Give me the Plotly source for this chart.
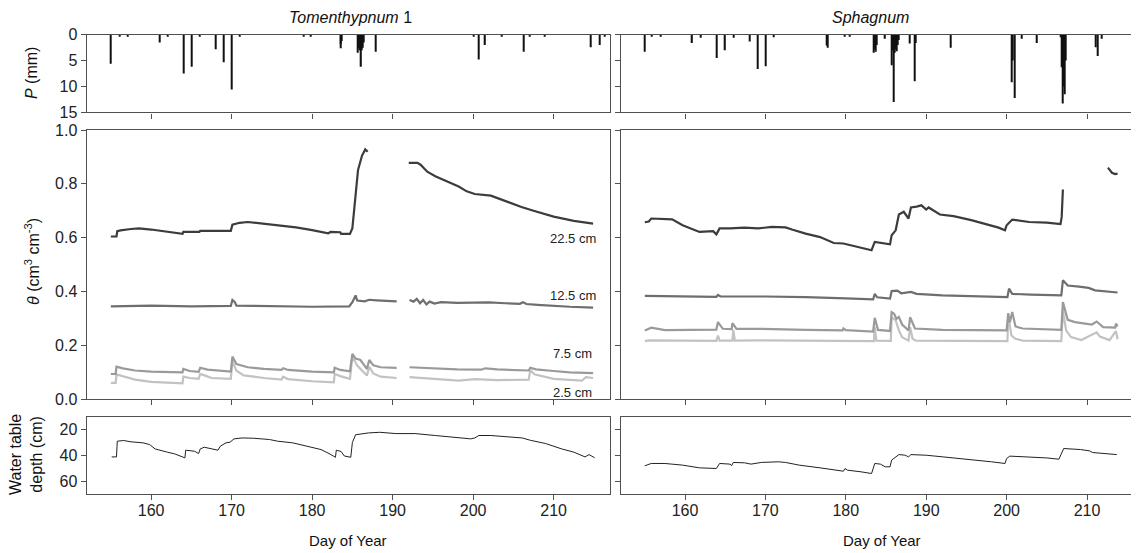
import plotly.graph_objects as go

# ---------------- DATA ----------------
# Precipitation (mm), Tomenthypnum 1
p_t1_day = [155.0, 156.1, 157.1, 161.1, 162.1, 164.0, 165.0, 166.0, 168.0, 169.0, 170.0, 171.0,
            179.0, 179.8, 183.5, 183.6, 183.7, 185.7, 185.8, 185.9, 186.0, 186.1, 186.2, 186.3,
            186.4, 187.9, 200.1, 200.7, 201.5, 203.6, 206.3, 207.0, 208.9, 214.6, 215.7, 216.3]
p_t1_mm = [5.6, 0.2, 0.2, 1.5, 0.3, 7.5, 6.2, 0.4, 2.8, 5.3, 10.6, 0.3,
           0.3, 0.3, 2.6, 1.8, 1.2, 3.5, 2.5, 3.0, 2.0, 6.2, 3.0, 2.5,
           1.5, 3.3, 0.3, 4.8, 2.0, 0.2, 3.3, 0.2, 0.2, 2.4, 2.0, 0.3]

# Precipitation (mm), Sphagnum
p_sp_day = [155.0, 155.9, 157.0, 160.9, 161.9, 163.9, 165.0, 166.0, 168.0, 169.0, 170.0, 171.0,
            177.6, 177.8, 179.9, 180.5, 183.5, 183.6, 183.7, 183.8, 184.9, 185.7, 185.8, 185.9,
            186.0, 186.1, 186.2, 186.3, 186.4, 186.6, 188.0, 188.6, 188.7, 193.0, 200.6, 200.8,
            201.0, 201.9, 203.8, 206.7, 206.9, 207.0, 207.1, 207.2, 207.3, 211.1, 211.3, 211.8]
p_sp_mm = [3.3, 0.3, 0.2, 1.6, 0.6, 4.5, 3.0, 0.6, 1.3, 6.6, 6.1, 0.5,
           2.1, 2.5, 0.3, 0.3, 3.5, 2.8, 3.3, 2.0, 0.8, 5.9, 3.0, 2.5,
           13.0, 3.5, 2.8, 3.2, 2.0, 1.0, 1.7, 9.0, 1.6, 2.5, 9.2, 5.0,
           12.2, 0.8, 1.6, 0.5, 6.3, 13.3, 10.0, 11.5, 5.0, 2.4, 4.1, 0.8]

# Soil moisture theta (cm3 cm-3), Tomenthypnum 1  (None = data gap)
t1_225_day = [155.0, 155.7, 155.8, 156.2, 157.5, 158.5, 160.0, 162.0, 163.9, 164.0, 166.0, 166.1,
              169.9, 170.1, 171.0, 172.0, 174.0, 176.0, 178.0, 180.0, 182.0, 182.3, 183.5, 183.6,
              184.7, 185.0, 185.4, 185.7, 186.2, 186.6, 186.9, None, 192.0, 193.1, 193.5, 194.3,
              195.3, 196.8, 198.2, 199.2, 200.2, 202.2, 204.1, 205.6, 206.0, 207.5, 210.0, 212.5, 214.9]
t1_225_val = [0.604, 0.604, 0.624, 0.627, 0.632, 0.634, 0.630, 0.622, 0.614, 0.621, 0.621, 0.625,
              0.625, 0.648, 0.655, 0.658, 0.652, 0.646, 0.638, 0.628, 0.616, 0.621, 0.620, 0.614,
              0.614, 0.635, 0.750, 0.851, 0.905, 0.928, 0.919, None, 0.878, 0.878, 0.870, 0.845,
              0.828, 0.807, 0.790, 0.772, 0.762, 0.756, 0.735, 0.718, 0.714, 0.700, 0.678, 0.662, 0.652]

t1_125_day = [155.0, 160.0, 165.0, 169.9, 170.1, 170.4, 170.6, 175.0, 180.0, 184.6, 185.0, 185.4,
              185.6, 186.5, 187.1, 188.0, 190.5, None, 192.1, 192.6, 193.0, 193.4, 193.8, 194.2,
              194.6, 195.2, 196.0, 198.0, 200.0, 202.0, 204.0, 205.8, 206.2, 206.6, 208.0, 210.0,
              212.0, 214.9]
t1_125_val = [0.344, 0.347, 0.344, 0.346, 0.368, 0.360, 0.347, 0.345, 0.343, 0.344, 0.360, 0.385,
              0.366, 0.363, 0.369, 0.367, 0.363, None, 0.368, 0.362, 0.372, 0.356, 0.368, 0.352,
              0.362, 0.355, 0.360, 0.357, 0.358, 0.359, 0.356, 0.354, 0.360, 0.353, 0.350, 0.346,
              0.343, 0.340]

t1_75_day = [155.0, 155.6, 155.7, 156.5, 158.0, 160.0, 163.9, 164.0, 164.8, 165.9, 166.1, 167.0,
             169.9, 170.1, 170.6, 172.0, 174.0, 176.2, 176.4, 177.0, 180.0, 182.7, 182.8, 183.5,
             184.7, 185.0, 185.4, 186.0, 186.8, 187.1, 187.6, 188.5, 190.5, None, 192.1, 195.0,
             198.0, 201.0, 201.5, 203.0, 206.9, 207.1, 207.8, 210.0, 212.0, 214.9]
t1_75_val = [0.093, 0.093, 0.120, 0.114, 0.106, 0.102, 0.099, 0.112, 0.104, 0.101, 0.116, 0.109,
             0.102, 0.158, 0.130, 0.118, 0.112, 0.108, 0.114, 0.108, 0.102, 0.099, 0.116, 0.108,
             0.103, 0.168, 0.150, 0.145, 0.112, 0.145, 0.125, 0.118, 0.116, None, 0.118, 0.114,
             0.110, 0.109, 0.114, 0.110, 0.106, 0.116, 0.110, 0.104, 0.099, 0.096]

t1_25_day = [155.0, 155.6, 155.7, 156.5, 158.0, 160.0, 163.9, 164.0, 164.8, 165.9, 166.1, 166.8,
             167.5, 169.9, 170.1, 170.6, 171.5, 174.0, 176.2, 176.4, 177.0, 180.0, 182.7, 182.8,
             183.5, 184.7, 185.0, 185.6, 186.8, 187.1, 187.6, 188.5, 190.5, None, 192.1, 195.3,
             198.2, 200.2, 203.0, 206.9, 207.1, 207.6, 208.5, 210.0, 213.5, 214.0, 214.9]
t1_25_val = [0.060, 0.060, 0.091, 0.085, 0.072, 0.064, 0.058, 0.083, 0.078, 0.075, 0.093, 0.086,
             0.078, 0.075, 0.140, 0.105, 0.088, 0.078, 0.072, 0.083, 0.074, 0.066, 0.062, 0.093,
             0.085, 0.075, 0.158, 0.124, 0.087, 0.120, 0.095, 0.083, 0.078, None, 0.081, 0.075,
             0.068, 0.074, 0.070, 0.072, 0.108, 0.092, 0.085, 0.075, 0.068, 0.081, 0.078]

# Soil moisture theta, Sphagnum
sp_225_day = [155.0, 155.5, 155.8, 157.0, 158.4, 159.7, 160.9, 161.8, 163.5, 163.9, 164.3, 165.6,
              167.4, 169.1, 170.8, 172.5, 173.3, 175.0, 176.8, 178.5, 179.7, 181.0, 182.3, 183.2,
              183.6, 184.4, 185.5, 185.7, 186.2, 186.6, 187.2, 187.8, 188.1, 188.8, 189.4, 190.0,
              190.3, 191.7, 193.4, 195.6, 197.3, 199.0, 199.8, 200.0, 200.7, 202.8, 205.0, 206.7,
              206.85, 207.0, None, 212.6, 213.1, 213.5, 213.8]
sp_225_val = [0.657, 0.660, 0.671, 0.670, 0.668, 0.646, 0.630, 0.621, 0.624, 0.612, 0.634, 0.634,
              0.637, 0.634, 0.640, 0.638, 0.630, 0.615, 0.602, 0.580, 0.578, 0.568, 0.559, 0.553,
              0.584, 0.580, 0.575, 0.609, 0.627, 0.686, 0.696, 0.671, 0.712, 0.715, 0.720, 0.704,
              0.712, 0.686, 0.680, 0.665, 0.652, 0.637, 0.627, 0.646, 0.667, 0.658, 0.656, 0.650,
              0.677, 0.779, None, 0.860, 0.841, 0.836, 0.838]

sp_125_day = [155.0, 158.0, 163.9, 164.1, 164.4, 170.0, 175.0, 180.0, 183.4, 183.6, 183.9, 185.5,
              185.7, 186.4, 186.9, 188.1, 188.8, 192.0, 196.0, 200.1, 200.3, 200.7, 203.0, 206.8,
              207.0, 207.6, 209.0, 210.2, 211.0, 212.0, 213.8]
sp_125_val = [0.383, 0.382, 0.380, 0.387, 0.381, 0.381, 0.379, 0.374, 0.370, 0.391, 0.378, 0.373,
              0.401, 0.403, 0.393, 0.398, 0.391, 0.385, 0.382, 0.379, 0.410, 0.391, 0.388, 0.385,
              0.441, 0.422, 0.418, 0.413, 0.404, 0.402, 0.396]

sp_75_day = [155.0, 155.8, 157.5, 160.0, 163.9, 164.1, 164.7, 165.8, 165.9, 166.4, 169.0, 175.0,
             179.6, 179.7, 180.0, 183.4, 183.6, 184.0, 185.5, 185.7, 186.0, 186.3, 186.6, 187.0,
             187.8, 188.0, 188.6, 192.0, 200.0, 200.2, 200.4, 200.7, 201.1, 202.0, 206.8, 207.0,
             207.6, 208.5, 210.6, 211.2, 212.0, 213.5, 213.6, 213.8]
sp_75_val = [0.255, 0.265, 0.256, 0.256, 0.258, 0.286, 0.261, 0.260, 0.282, 0.261, 0.261, 0.257,
             0.255, 0.262, 0.256, 0.251, 0.302, 0.257, 0.253, 0.323, 0.317, 0.298, 0.305, 0.277,
             0.255, 0.304, 0.262, 0.257, 0.255, 0.319, 0.285, 0.323, 0.270, 0.262, 0.257, 0.360,
             0.294, 0.286, 0.277, 0.288, 0.267, 0.265, 0.280, 0.270]

sp_25_day = [155.0, 155.5, 163.9, 164.1, 164.3, 165.9, 166.0, 166.2, 169.1, 183.5, 183.6, 183.8,
             185.6, 185.7, 186.2, 186.6, 187.0, 187.8, 188.0, 188.3, 188.7, 200.1, 200.2, 200.6,
             201.1, 202.0, 206.8, 207.0, 207.4, 208.0, 209.3, 211.2, 211.6, 212.8, 213.6, 213.8]
sp_25_val = [0.215, 0.218, 0.216, 0.236, 0.217, 0.217, 0.257, 0.217, 0.218, 0.215, 0.267, 0.217,
             0.216, 0.304, 0.292, 0.255, 0.230, 0.217, 0.267, 0.224, 0.217, 0.215, 0.311, 0.236,
             0.224, 0.217, 0.215, 0.329, 0.255, 0.230, 0.219, 0.248, 0.232, 0.219, 0.252, 0.222]

# Water table depth (cm)
wt_t1_day = [155.1, 155.7, 155.8, 156.6, 157.5, 159.0, 159.8, 160.5, 162.0, 162.9, 163.9, 164.2,
             164.3, 165.4, 165.9, 166.1, 166.6, 167.6, 168.1, 168.3, 168.6, 169.3, 169.8, 170.3,
             171.3, 172.7, 174.7, 175.7, 177.6, 179.1, 181.1, 182.1, 182.9, 183.0, 183.6, 184.0,
             184.8, 185.0, 185.4, 187.0, 188.4, 190.4, 192.8, 195.3, 197.7, 199.7, 200.2, 200.7,
             202.2, 204.6, 206.1, 207.1, 209.0, 211.0, 212.5, 213.9, 214.4, 215.1]
wt_t1_cm = [41.2, 41.2, 29.0, 28.5, 29.5, 30.3, 31.6, 35.0, 37.5, 38.8, 41.2, 42.0,
            36.0, 36.8, 38.6, 35.0, 33.7, 35.0, 35.5, 36.0, 32.9, 30.3, 29.8, 27.2,
            26.5, 26.7, 27.7, 29.0, 30.3, 32.4, 35.5, 38.6, 41.5, 36.0, 37.0, 40.5,
            41.5, 30.0, 24.0, 22.6, 22.1, 23.1, 23.1, 24.6, 25.7, 27.2, 26.5, 24.6,
            24.6, 25.7, 26.5, 28.3, 30.8, 35.0, 37.5, 41.2, 39.4, 41.9]

wt_sp_day = [155.0, 155.8, 157.5, 159.7, 161.8, 163.9, 164.3, 165.6, 165.8, 166.0, 167.4, 168.2,
             169.5, 171.6, 172.5, 174.2, 176.8, 178.5, 179.7, 179.9, 180.2, 181.9, 183.2, 183.6,
             184.3, 184.9, 185.5, 185.7, 186.6, 187.4, 187.8, 188.1, 190.0, 192.1, 194.3, 196.4,
             198.1, 199.8, 200.0, 200.4, 202.8, 205.0, 206.5, 206.9, 207.1, 209.2, 210.3, 210.7,
             212.2, 213.7]
wt_sp_cm = [48.1, 46.3, 46.3, 47.6, 49.7, 50.2, 46.3, 46.8, 48.0, 45.5, 45.8, 46.8,
            45.5, 45.0, 45.5, 47.6, 49.7, 51.5, 52.3, 50.2, 51.5, 52.8, 54.1, 46.3,
            46.8, 48.9, 48.9, 43.7, 39.4, 39.9, 41.2, 39.4, 39.9, 41.2, 42.5, 43.7,
            45.0, 46.3, 42.5, 40.6, 41.2, 42.0, 43.0, 36.5, 34.7, 35.5, 36.5, 37.8,
            38.6, 39.4]

depth_labels = ["22.5 cm", "12.5 cm", "7.5 cm", "2.5 cm"]
depth_label_y = [0.596, 0.383, 0.170, 0.025]
x_ticks = [160, 170, 180, 190, 200, 210]

# ---------------- LAYOUT ----------------
W, H = 1139, 553
OFF = 8  # page body margin offset (screen px)
FONT = "Arial, Liberation Sans, sans-serif"
LC = "#505050"
C225, C125, C75, C25 = "#3c3c3c", "#6e6e6e", "#9a9a9a", "#c2c2c2"


def fx(p):
    return (p - OFF) / W


def fy(p):
    return 1 - (p - OFF) / H


XL = [fx(86.7), fx(610)]
XR = [fx(620.7), fx(1143.3)]
YP = [fy(112.4), fy(34.7)]
YT = [fy(399), fy(130)]
YW = [fy(494), fy(416.7)]

fig = go.Figure()

# precipitation bars
fig.add_trace(go.Bar(x=p_t1_day, y=p_t1_mm, width=0.14, marker=dict(color="#111", line_width=0),
                     xaxis="x", yaxis="y", showlegend=False))
fig.add_trace(go.Bar(x=p_sp_day, y=p_sp_mm, width=0.14, marker=dict(color="#111", line_width=0),
                     xaxis="x2", yaxis="y2", showlegend=False))

# theta lines
for d, v, c, xa, ya in [
    (t1_25_day, t1_25_val, C25, "x3", "y3"),
    (t1_75_day, t1_75_val, C75, "x3", "y3"),
    (t1_125_day, t1_125_val, C125, "x3", "y3"),
    (t1_225_day, t1_225_val, C225, "x3", "y3"),
    (sp_25_day, sp_25_val, C25, "x4", "y4"),
    (sp_75_day, sp_75_val, C75, "x4", "y4"),
    (sp_125_day, sp_125_val, C125, "x4", "y4"),
    (sp_225_day, sp_225_val, C225, "x4", "y4"),
]:
    fig.add_trace(go.Scatter(x=d, y=v, mode="lines", line=dict(color=c, width=2.2),
                             xaxis=xa, yaxis=ya, showlegend=False, connectgaps=False))

# water table
fig.add_trace(go.Scatter(x=wt_t1_day, y=wt_t1_cm, mode="lines", line=dict(color="#222", width=1),
                         xaxis="x5", yaxis="y5", showlegend=False))
fig.add_trace(go.Scatter(x=wt_sp_day, y=wt_sp_cm, mode="lines", line=dict(color="#222", width=1),
                         xaxis="x6", yaxis="y6", showlegend=False))

base = dict(showline=True, linecolor=LC, linewidth=1.4, ticks="outside", ticklen=5, tickwidth=1.2,
            tickcolor=LC, showgrid=False, zeroline=False, automargin=False,
            tickfont=dict(family=FONT, size=16, color="#222"))

layout = dict(width=W, height=H, margin=dict(l=0, r=0, t=0, b=0, pad=0), plot_bgcolor="white",
              paper_bgcolor="white", barmode="overlay", showlegend=False)

rows = [(YP, [15, 0], [0, 5, 10, 15], None),
        (YT, [0, 1], [0, 0.2, 0.4, 0.6, 0.8, 1.0], ".1f"),
        (YW, [70, 10], [20, 40, 60], None)]
k = 0
for ri, (ydom, yr, yt, yfmt) in enumerate(rows):
    for ci in range(2):
        k += 1
        xname = "xaxis" if k == 1 else f"xaxis{k}"
        yname = "yaxis" if k == 1 else f"yaxis{k}"
        ysuf = "y" if k == 1 else f"y{k}"
        xsuf = "x" if k == 1 else f"x{k}"
        xa = dict(base, domain=XL if ci == 0 else XR, anchor=ysuf, range=[152, 217],
                  tickvals=x_ticks, showticklabels=(ri == 2), mirror=True,
                  ticklabelstandoff=-3)
        ya = dict(base, domain=ydom, anchor=xsuf, range=yr, tickvals=yt,
                  showticklabels=(ci == 0), mirror=True)
        if yfmt:
            ya["tickformat"] = yfmt
        layout[xname] = xa
        layout[yname] = ya

fig.update_layout(**layout)


def pann(text, x, y, size=16, angle=0):
    return dict(text=text, x=fx(x), y=fy(y), xref="paper", yref="paper", xanchor="center",
                yanchor="middle", textangle=angle, showarrow=False,
                font=dict(family=FONT, size=size, color="#111"))


ann = []
# panel titles
ann.append(pann("<i>Tomenthypnum</i> 1", 350, 17))
ann.append(pann("<i>Sphagnum</i>", 870, 17))
# axis titles
ann.append(pann("<i>P</i> (mm)", 31, 73, angle=-90))
ann.append(pann("<i>θ</i> (cm<sup>3</sup> cm<sup>-3</sup>)", 32, 262, angle=-90))
ann.append(pann("Water table<br>depth (cm)", 26, 455, angle=-90))
for xc in [348, 882]:
    ann.append(pann("Day of Year", xc, 540, size=15))
# depth labels
for lab, yv in zip(depth_labels, depth_label_y):
    ann.append(dict(text=lab, x=212.4, y=yv, xref="x3", yref="y3", xanchor="center",
                    yanchor="middle", showarrow=False,
                    font=dict(family=FONT, size=13, color="#222")))

fig.update_layout(annotations=ann)
fig.write_html("out.html")
